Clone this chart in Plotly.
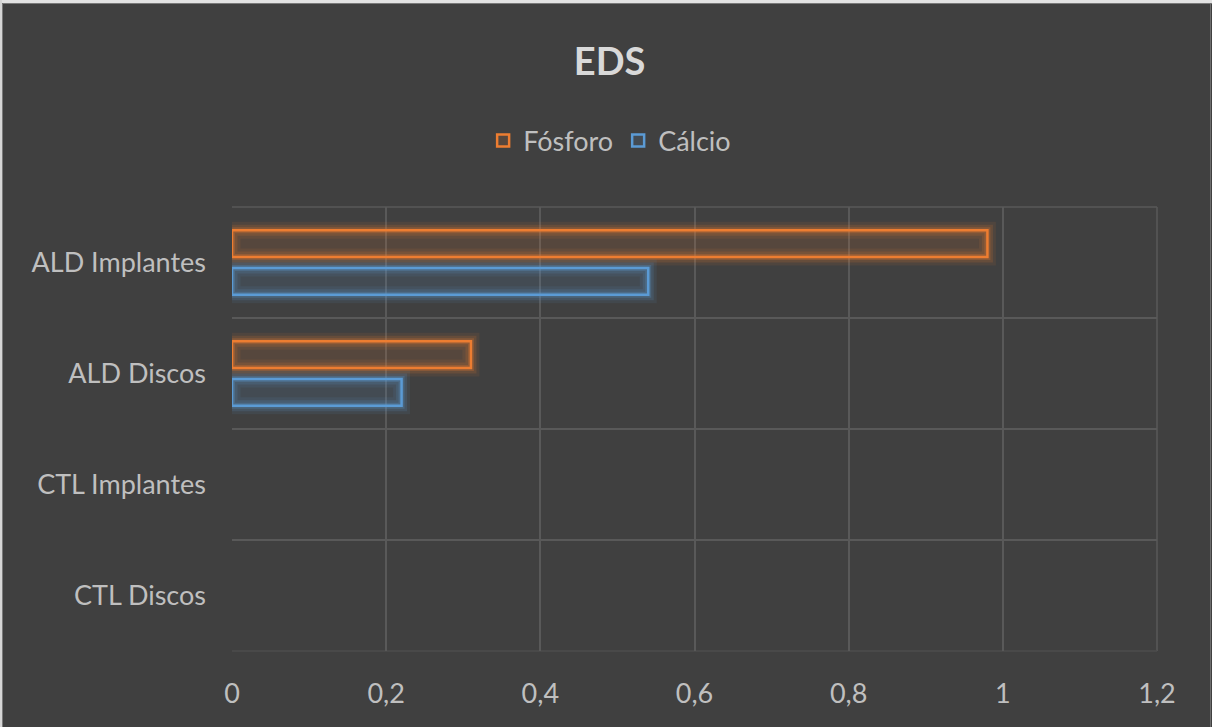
import plotly.graph_objects as go

categories = ["CTL Discos", "CTL Implantes", "ALD Discos", "ALD Implantes"]
fosforo = [None, None, 0.31, 0.98]
calcio = [None, None, 0.22, 0.54]
x_ticks = [0, 0.2, 0.4, 0.6, 0.8, 1.0, 1.2]

ORANGE = "#ED7D31"
BLUE = "#5B9BD5"
GRID = "#595959"

W, H = 1212, 727
ML, MR, MT, MB = 232, 55, 207, 76
PW, PH = W - ML - MR, H - MT - MB

def px(x):
    return (x - ML) / PW

def py(y):
    return (H - MB - y) / PH

fig = go.Figure()

def add_series(name, vals, color, rgb, offset, rank):
    for w, a in [(17, 0.09), (11, 0.15), (6, 0.25)]:
        fig.add_trace(go.Bar(
            y=categories, x=vals, orientation="h", name=name,
            marker=dict(color="rgba(0,0,0,0)", line=dict(color=f"rgba({rgb},{a})", width=w)),
            width=0.24, offset=offset, showlegend=False, hoverinfo="skip"))
    fig.add_trace(go.Bar(
        y=categories, x=vals, orientation="h", name=name,
        marker=dict(color=f"rgba({rgb},0.13)", line=dict(color=color, width=2.5)),
        width=0.24, offset=offset, legendrank=rank))

add_series("Fósforo", fosforo, ORANGE, "237,125,49", 0.05, 1)
add_series("Cálcio", calcio, BLUE, "91,155,213", -0.29, 2)

shapes = [
    dict(type="line", xref="paper", yref="paper", x0=0, x1=1, y0=1, y1=1, line=dict(color=GRID, width=1.5), layer="below"),
    dict(type="line", xref="paper", yref="paper", x0=1, x1=1, y0=0, y1=1, line=dict(color=GRID, width=1.5), layer="below"),
    dict(type="line", xref="paper", yref="paper", x0=0, x1=1, y0=0, y1=0, line=dict(color="#4d4d4d", width=1.5), layer="below"),
    dict(type="rect", xref="paper", yref="paper", x0=px(0), x1=px(W), y0=py(0), y1=py(3),
         fillcolor="#E3E3E3", line=dict(width=0)),
    dict(type="rect", xref="paper", yref="paper", x0=px(0), x1=px(2), y0=py(0), y1=py(H),
         fillcolor="#D6D6D6", line=dict(width=0)),
    dict(type="line", xref="paper", yref="paper", x0=px(2.5), x1=px(W), y0=py(3.5), y1=py(3.5),
         line=dict(color="#7A7A7A", width=1)),
    dict(type="line", xref="paper", yref="paper", x0=px(2.5), x1=px(2.5), y0=py(3.5), y1=py(H),
         line=dict(color="#7A7A7A", width=1)),
    dict(type="line", xref="paper", yref="paper", x0=px(W - 1.5), x1=px(W - 1.5), y0=py(3.5), y1=py(H),
         line=dict(color="#6E6E6E", width=1)),
]

FONT = "Lato, Open Sans, sans-serif"

fig.update_layout(
    width=W, height=H,
    paper_bgcolor="#404040", plot_bgcolor="#404040",
    barmode="overlay",
    separators=", ",
    margin=dict(l=ML, r=MR, t=MT, b=MB),
    font=dict(family=FONT, color="#BFBFBF", size=27),
    title=dict(text="<b>EDS</b>", x=0.503, xref="container", xanchor="center", y=0.915, yanchor="middle",
               font=dict(size=38, color="#D9D9D9", family=FONT)),
    legend=dict(orientation="h", x=0.503, xanchor="center", xref="container", y=0.806, yanchor="middle", yref="container",
                font=dict(size=27, color="#BFBFBF"), bgcolor="rgba(0,0,0,0)",
                itemwidth=30, traceorder="normal"),
    showlegend=True,
    shapes=shapes,
)
fig.update_xaxes(range=[0, 1.2], tickvals=x_ticks, tickformat=".1~f",
                 showgrid=True, gridcolor=GRID, gridwidth=1.5, zeroline=False,
                 showline=False, ticks="", ticklabelstandoff=24, tickfont=dict(size=27, color="#BFBFBF"))
fig.update_yaxes(categoryorder="array", categoryarray=categories, tickson="boundaries",
                 showgrid=True, gridcolor=GRID, gridwidth=1.5, showline=False, ticks="",
                 ticklabelstandoff=25, tickfont=dict(size=27, color="#BFBFBF"), range=[-0.5, 3.5])

fig.write_html("out.html")
